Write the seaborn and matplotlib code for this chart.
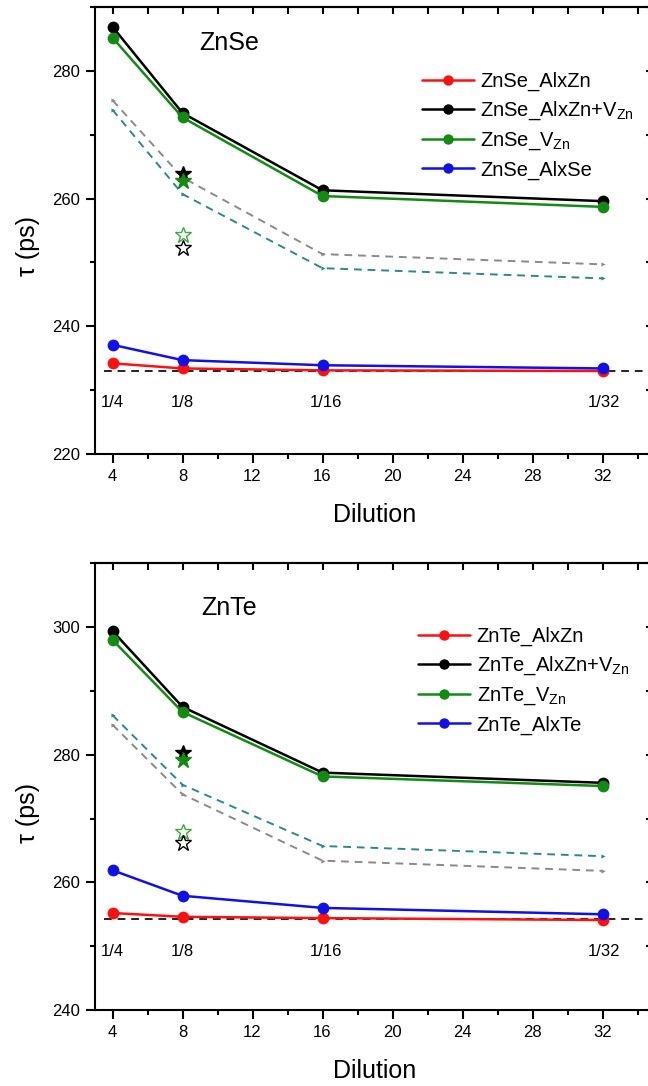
import numpy as np
import pandas as pd
import matplotlib
matplotlib.use("Agg")
import matplotlib.pyplot as plt
from matplotlib.ticker import MultipleLocator
import seaborn as sns

# ---- data -------------------------------------------------------------
dilution = [4, 8, 16, 32]
fraction_labels = ["1/4", "1/8", "1/16", "1/32"]
fraction_x = [4, 8, 16.2, 32.1]

# ZnSe lifetimes (ps)
znse_alxzn = [234.2, 233.4, 233.1, 233.0]
znse_alxzn_vzn = [286.9, 273.4, 261.3, 259.6]
znse_vzn = [285.2, 272.7, 260.4, 258.7]
znse_alxse = [237.1, 234.7, 233.9, 233.4]
znse_gray = [275.4, 263.3, 251.3, 249.7]
znse_teal = [273.9, 260.7, 249.1, 247.5]
znse_bulk = 233.0
znse_stars_filled = [263.9, 262.8]   # black, green
znse_stars_open = [254.3, 252.3]     # green, black

# ZnTe lifetimes (ps)
znte_alxzn = [255.2, 254.6, 254.4, 254.1]
znte_alxzn_vzn = [299.4, 287.5, 277.2, 275.6]
znte_vzn = [298.0, 286.7, 276.6, 275.1]
znte_alxte = [261.9, 257.9, 256.0, 255.0]
znte_gray = [284.7, 273.8, 263.4, 261.8]
znte_teal = [286.2, 275.3, 265.7, 264.1]
znte_bulk = 254.2
znte_stars_filled = [280.3, 279.2]
znte_stars_open = [267.9, 266.2]

# ---- style -----------------------------------------------------------
sns.set_style("ticks")
plt.rcParams["font.family"] = ["Liberation Sans", "DejaVu Sans"]
plt.rcParams["mathtext.fontset"] = "custom"
plt.rcParams["mathtext.rm"] = "Liberation Sans"
plt.rcParams["mathtext.it"] = "Liberation Sans:italic"
plt.rcParams["axes.linewidth"] = 1.5
for key in ("text.color", "axes.labelcolor", "xtick.color", "ytick.color",
            "axes.edgecolor"):
    plt.rcParams[key] = "black"

RED = "#ff1010"
BLACK = "#000000"
GREEN = "#138a13"
BLUE = "#1010e8"
GRAY = "#8a8a8a"
TEAL = "#2a8a8a"

fig = plt.figure(figsize=(6.48, 10.86), dpi=100)
ax_top = fig.add_axes([95 / 648, 1 - 454 / 1086, 560 / 648, 447 / 1086])
ax_bot = fig.add_axes([95 / 648, 1 - 1010 / 1086, 560 / 648, 446.7 / 1086])


def draw_panel(ax, name, series, gray, teal, bulk, stars_f, stars_o,
               ylim, label_y, name_y, leg_anchor, ylabel_pos):
    x = np.array(dilution)
    # reference dashed curves
    for vals, c in ((gray, GRAY), (teal, TEAL)):
        sns.lineplot(x=x, y=vals, ax=ax, color=c, lw=1.4, marker=">",
                     markersize=3, markeredgewidth=0, sort=False,
                     linestyle=(0, (4, 3)), zorder=2)
    # bulk lifetime
    ax.plot([3.5, 35], [bulk, bulk], color="#222222", lw=1.4,
            linestyle=(0, (4, 3)), zorder=2)
    # isolated star points at dilution 8
    ax.plot([8], [stars_f[0]], marker="*", color=BLACK, ms=12, ls="none", zorder=4)
    ax.plot([8], [stars_f[1]], marker="*", color=GREEN, ms=12, ls="none", zorder=4)
    ax.plot([8], [stars_o[0]], marker="*", mfc="white", mec="#3aa83a", mew=1.0,
            ms=12, ls="none", zorder=4)
    ax.plot([8], [stars_o[1]], marker="*", mfc="white", mec=BLACK, mew=1.0,
            ms=12, ls="none", zorder=4)

    handles = []
    for vals, c, lab in series:
        sns.lineplot(x=x, y=vals, ax=ax, color=c, lw=1.8, marker="o",
                     markersize=8.5, markeredgewidth=0, sort=False, zorder=5)
        h, = ax.plot([], [], color=c, lw=1.8, marker="o", markersize=7.5,
                     markeredgewidth=0, label=lab)
        handles.append(h)

    for fx, fl in zip(fraction_x, fraction_labels):
        ax.text(fx, label_y, fl, ha="center", va="center", fontsize=12)
    ax.text(10.65, name_y, name, ha="center", va="center", fontsize=18)

    ax.set_xlim(3, 35)
    ax.set_ylim(*ylim)
    ax.xaxis.set_major_locator(MultipleLocator(4))
    ax.xaxis.set_minor_locator(MultipleLocator(2))
    ax.yaxis.set_major_locator(MultipleLocator(20))
    ax.yaxis.set_minor_locator(MultipleLocator(10))
    ax.tick_params(axis="both", which="major", labelsize=12, width=1.5,
                   length=6.5, pad=4)
    ax.tick_params(axis="both", which="minor", width=1.5, length=3.8)
    ax.tick_params(axis="both", which="both", direction="out",
                   top=False, right=False)
    # mirrored ticks on top/right point inward
    sec_x = ax.secondary_xaxis("top")
    sec_x.set_xticks(np.arange(4, 35, 2))
    sec_x.tick_params(direction="in", length=5, width=1.5, labeltop=False)
    sec_x.set_xticklabels([])
    sec_y = ax.secondary_yaxis("right")
    sec_y.set_yticks(np.arange(ylim[0], ylim[1] + 1, 10))
    sec_y.tick_params(direction="in", length=6.5, width=1.5)
    sec_y.set_yticklabels([])
    for s in ax.spines.values():
        s.set_linewidth(1.5)

    ax.set_xlabel("Dilution", fontsize=18, labelpad=14)
    ax.set_ylabel("τ (ps)", fontsize=18)
    ax.yaxis.set_label_coords(-0.098, ylabel_pos)
    ax.legend(handles=handles, loc="upper left", bbox_to_anchor=leg_anchor,
              frameon=False, fontsize=14.5, handlelength=2.6,
              handletextpad=0.3, borderpad=0, borderaxespad=0,
              labelspacing=0.42)


draw_panel(ax_top, "ZnSe",
           [(znse_alxzn, RED, "ZnSe_AlxZn"),
            (znse_alxzn_vzn, BLACK, r"ZnSe_AlxZn+V$_{\mathrm{Zn}}$"),
            (znse_vzn, GREEN, r"ZnSe_V$_{\mathrm{Zn}}$"),
            (znse_alxse, BLUE, "ZnSe_AlxSe")],
           znse_gray, znse_teal, znse_bulk, znse_stars_filled, znse_stars_open,
           (220, 290), 228.0, 284.4, (0.584, 0.855), 0.465)

draw_panel(ax_bot, "ZnTe",
           [(znte_alxzn, RED, "ZnTe_AlxZn"),
            (znte_alxzn_vzn, BLACK, r"ZnTe_AlxZn+V$_{\mathrm{Zn}}$"),
            (znte_vzn, GREEN, r"ZnTe_V$_{\mathrm{Zn}}$"),
            (znte_alxte, BLUE, "ZnTe_AlxTe")],
           znte_gray, znte_teal, znte_bulk, znte_stars_filled, znte_stars_open,
           (240, 310), 249.1, 303.0, (0.577, 0.858), 0.44)

fig.savefig("out.png", dpi=100)
